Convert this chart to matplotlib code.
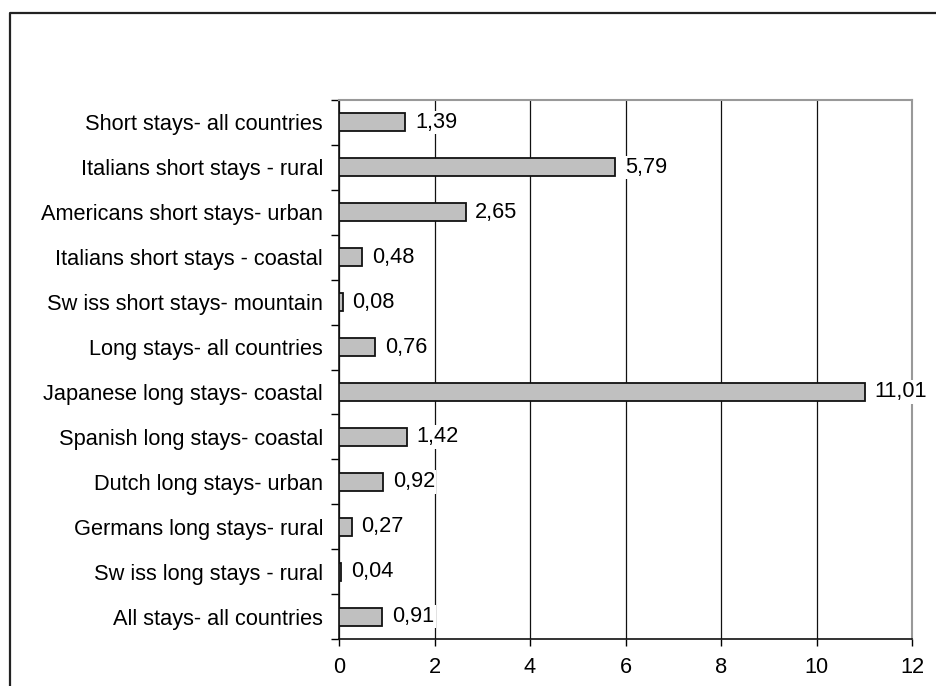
import numpy as np
import matplotlib.pyplot as plt
from matplotlib.lines import Line2D

plt.rcParams['font.family'] = ['Liberation Sans', 'DejaVu Sans']

categories = [
    "Short stays- all countries",
    "Italians short stays - rural",
    "Americans short stays- urban",
    "Italians short stays - coastal",
    "Sw iss short stays- mountain",
    "Long stays- all countries",
    "Japanese long stays- coastal",
    "Spanish long stays- coastal",
    "Dutch long stays- urban",
    "Germans long stays- rural",
    "Sw iss long stays - rural",
    "All stays- all countries",
]
values = [1.39, 5.79, 2.65, 0.48, 0.08, 0.76, 11.01, 1.42, 0.92, 0.27, 0.04, 0.91]
x_ticks = [0, 2, 4, 6, 8, 10, 12]

FS = 15.7

fig = plt.figure(figsize=(9.36, 6.86), dpi=100)
ax = fig.add_axes([339 / 936, 1 - 639 / 686, 573 / 936, 539 / 686])

# outer frame, open at right and bottom
fig.add_artist(Line2D([10 / 936, 10 / 936, 1.0], [0.0, 1 - 13 / 686, 1 - 13 / 686],
                      transform=fig.transFigure, color='#222222', lw=1.6))

y = np.arange(len(categories))
ax.barh(y, values, height=0.4, color='#c0c0c0', edgecolor='#111111', linewidth=1.3, zorder=3)

# value labels sit on a white box so gridlines don't run through them
for yi, v in zip(y, values):
    ax.annotate(f"{v:.2f}".replace('.', ','), (v, yi), xytext=(7, 0),
                textcoords='offset points', va='center', ha='left',
                fontsize=FS, zorder=4,
                bbox=dict(facecolor='white', edgecolor='none', pad=1.0))

ax.set_xlim(0, 12)
ax.set_ylim(len(categories) - 0.5, -0.5)
ax.set_xticks(x_ticks)
ax.set_xticklabels([str(t) for t in x_ticks], fontsize=FS)
ax.set_yticks(y)
ax.set_yticklabels(categories, fontsize=FS)
ax.tick_params(axis='y', length=0, pad=11.5)
ax.tick_params(axis='x', length=5, width=1, direction='out', pad=8)

# category boundary ticks on the left axis
ax.set_yticks(np.arange(-0.5, len(categories), 1.0), minor=True)
ax.tick_params(axis='y', which='minor', length=6, width=1, direction='out')

ax.grid(axis='x', color='#111111', linewidth=0.9, zorder=0)
ax.set_axisbelow(True)

ax.spines['left'].set_color('#111111')
ax.spines['bottom'].set_color('#111111')
ax.spines['left'].set_linewidth(1.2)
ax.spines['bottom'].set_linewidth(1.2)
ax.spines['top'].set_color('#999999')
ax.spines['right'].set_color('#999999')
ax.spines['top'].set_linewidth(1.5)
ax.spines['right'].set_linewidth(1.5)

fig.savefig('out.png', dpi=100)
